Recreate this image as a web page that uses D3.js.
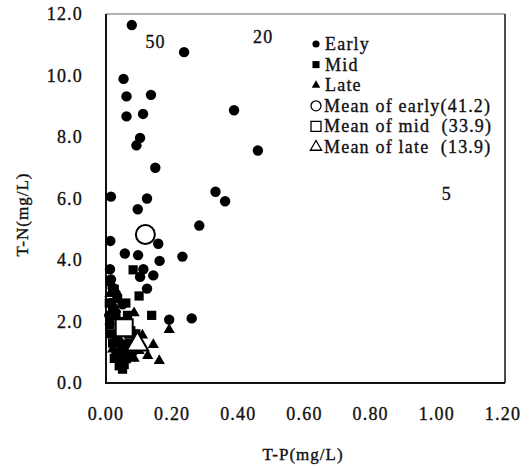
<!DOCTYPE html>
<html>
<head>
<meta charset="utf-8">
<script src="https://cdn.jsdelivr.net/npm/d3@7"></script>
<style>
  body { margin: 0; background: #fff; }
  text { font-family: "Liberation Serif", "Times New Roman", serif; fill: #111; stroke: #111; stroke-width: 0.35px; white-space: pre; }
</style>
</head>
<body>
<svg id="chart" width="532" height="469"></svg>
<script>
// T-P vs T-N, three periods
const early = [
  [0.078, 11.64], [0.236, 10.76], [0.053, 9.89], [0.062, 9.32], [0.136, 9.37],
  [0.062, 8.67], [0.112, 8.75], [0.387, 8.87], [0.103, 7.97], [0.092, 7.73],
  [0.459, 7.56], [0.149, 7.00], [0.015, 6.06], [0.124, 6.00], [0.331, 6.22],
  [0.360, 5.91], [0.096, 5.65], [0.282, 5.12], [0.013, 4.62], [0.158, 4.53],
  [0.057, 4.21], [0.097, 4.16], [0.231, 4.11], [0.162, 3.97], [0.012, 3.70],
  [0.113, 3.70], [0.103, 3.45], [0.143, 3.50], [0.124, 3.07], [0.015, 3.37],
  [0.020, 3.10], [0.015, 2.60], [0.050, 2.56], [0.191, 2.06], [0.259, 2.10],
  [0.030, 2.90], [0.010, 2.20]
];
const mid = [
  [0.082, 3.68], [0.100, 2.83], [0.138, 2.20], [0.040, 0.56], [0.012, 3.30],
  [0.025, 3.05], [0.035, 2.75], [0.060, 2.60], [0.020, 2.35], [0.065, 2.20],
  [0.012, 1.90], [0.030, 1.55], [0.075, 1.70], [0.050, 1.25], [0.030, 1.00],
  [0.065, 0.95], [0.045, 0.75], [0.080, 1.05], [0.020, 1.30], [0.055, 0.60],
  [0.090, 1.60], [0.070, 1.30], [0.010, 2.60], [0.030, 2.20], [0.045, 2.00],
  [0.015, 1.60], [0.035, 1.30], [0.060, 1.10], [0.040, 0.90], [0.075, 0.85],
  [0.050, 0.45], [0.025, 0.80]
];
const late = [
  [0.191, 1.73], [0.143, 1.24], [0.126, 0.89], [0.161, 0.72], [0.085, 2.28],
  [0.030, 2.40], [0.012, 2.00], [0.060, 1.95], [0.040, 1.45], [0.100, 1.05],
  [0.085, 0.80], [0.060, 0.75], [0.110, 1.55], [0.020, 1.10], [0.045, 1.10],
  [0.012, 2.90], [0.070, 1.55], [0.095, 1.40], [0.050, 1.60]
];
const means = [
  { name: "early", v: [0.119, 4.83] },
  { name: "mid", v: [0.055, 1.80] },
  { name: "late", v: [0.095, 1.26] }
];
const xTicks = [0, 0.2, 0.4, 0.6, 0.8, 1.0, 1.2];
const yTicks = [0, 2, 4, 6, 8, 10, 12];
const legendLabels = ["Early", "Mid", "Late", "Mean of early(41.2)", "Mean of mid  (33.9)", "Mean of late  (13.9)"];
const notes = [
  { t: "50", x: 0.15, y: 11.1 },
  { t: "20", x: 0.475, y: 11.25 },
  { t: "5", x: 1.03, y: 6.15 }
];

const svg = d3.select("#chart");
const mLeft = 106, mRight = 505, mTop = 14, mBottom = 383;

const x = d3.scaleLinear().domain([0, 1.2]).range([mLeft, 503]);
const y = d3.scaleLinear().domain([0, 12]).range([mBottom, mTop]);

const fontSize = 18, spacing = "1.2px";

// frame
svg.append("line").attr("x1", mLeft).attr("x2", mRight).attr("y1", mTop).attr("y2", mTop)
  .attr("stroke", "#666").attr("stroke-width", 1.2);
svg.append("line").attr("x1", mRight).attr("x2", mRight).attr("y1", mTop).attr("y2", mBottom)
  .attr("stroke", "#111").attr("stroke-width", 1.5);
svg.append("line").attr("x1", mLeft).attr("x2", mLeft).attr("y1", mTop).attr("y2", mBottom + 1)
  .attr("stroke", "#111").attr("stroke-width", 2);
svg.append("line").attr("x1", mLeft - 1).attr("x2", mRight).attr("y1", mBottom).attr("y2", mBottom)
  .attr("stroke", "#111").attr("stroke-width", 2);

// tick labels
svg.selectAll(".xt").data(xTicks).enter().append("text")
  .attr("class", "xt")
  .attr("x", d => x(d))
  .attr("y", 420)
  .attr("text-anchor", "middle")
  .attr("font-size", fontSize)
  .attr("letter-spacing", spacing)
  .text(d => d.toFixed(2));

svg.selectAll(".yt").data(yTicks).enter().append("text")
  .attr("class", "yt")
  .attr("x", 83)
  .attr("y", d => y(d) + 6)
  .attr("text-anchor", "end")
  .attr("font-size", fontSize)
  .attr("letter-spacing", spacing)
  .text(d => d.toFixed(1));

// axis titles
svg.append("text")
  .attr("x", 303).attr("y", 460)
  .attr("text-anchor", "middle")
  .attr("font-size", 17)
  .attr("letter-spacing", "1px")
  .text("T-P(mg/L)");

svg.append("text")
  .attr("transform", `translate(28,${(mTop + mBottom) / 2 + 16}) rotate(-90)`)
  .attr("text-anchor", "middle")
  .attr("font-size", 17)
  .attr("letter-spacing", "1px")
  .text("T-N(mg/L)");

// annotations
svg.selectAll(".note").data(notes).enter().append("text")
  .attr("class", "note")
  .attr("x", d => x(d.x))
  .attr("y", d => y(d.y) + 6)
  .attr("text-anchor", "middle")
  .attr("font-size", fontSize)
  .attr("letter-spacing", spacing)
  .text(d => d.t);

// markers
const sym = (type, size) => d3.symbol().type(type).size(size)();

const plot = svg.append("g");

plot.selectAll(".early").data(early).enter().append("circle")
  .attr("class", "early")
  .attr("cx", d => x(d[0])).attr("cy", d => y(d[1]))
  .attr("r", 5.2).attr("fill", "#000");

plot.selectAll(".mid").data(mid).enter().append("path")
  .attr("class", "mid")
  .attr("transform", d => `translate(${x(d[0])},${y(d[1])})`)
  .attr("d", sym(d3.symbolSquare, 85))
  .attr("fill", "#000");

plot.selectAll(".late").data(late).enter().append("path")
  .attr("class", "late")
  .attr("transform", d => `translate(${x(d[0])},${y(d[1])})`)
  .attr("d", sym(d3.symbolTriangle, 55))
  .attr("fill", "#000");

const meanShapes = {
  early: () => sym(d3.symbolCircle, Math.PI * 9.5 * 9.5),
  mid: () => sym(d3.symbolSquare, 17 * 17),
  late: () => sym(d3.symbolTriangle, 200)
};

plot.selectAll(".mean").data(means).enter().append("path")
  .attr("class", "mean")
  .attr("transform", d => `translate(${x(d.v[0])},${y(d.v[1])})`)
  .attr("d", d => meanShapes[d.name]())
  .attr("fill", "#fff")
  .attr("stroke", "#000")
  .attr("stroke-width", 2);

// legend
const legendShapes = [
  { d: sym(d3.symbolCircle, 40), fill: "#000" },
  { d: sym(d3.symbolSquare, 50), fill: "#000" },
  { d: sym(d3.symbolTriangle, 32), fill: "#000" },
  { d: sym(d3.symbolCircle, Math.PI * 5 * 5), fill: "#fff" },
  { d: sym(d3.symbolSquare, 100), fill: "#fff" },
  { d: sym(d3.symbolTriangle, 55), fill: "#fff" }
];

const legend = svg.append("g").attr("transform", "translate(316,44)");
const rows = legend.selectAll("g").data(legendLabels).enter().append("g")
  .attr("transform", (d, i) => `translate(0,${i * 20.6})`);

rows.append("path")
  .attr("d", (d, i) => legendShapes[i].d)
  .attr("fill", (d, i) => legendShapes[i].fill)
  .attr("stroke", (d, i) => i > 2 ? "#000" : "none")
  .attr("stroke-width", 1.3);

rows.append("text")
  .attr("x", (d, i) => i > 2 ? 8 : 9)
  .attr("y", 6)
  .attr("font-size", fontSize)
  .attr("letter-spacing", "1.2px")
  .text(d => d);
</script>
</body>
</html>
